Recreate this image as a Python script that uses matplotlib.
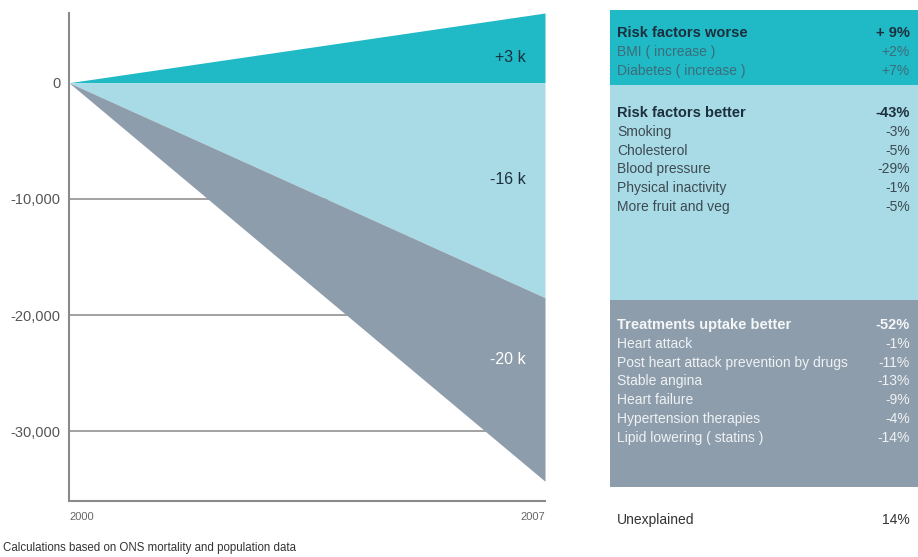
import matplotlib
matplotlib.use("Agg")
import matplotlib.pyplot as plt
from matplotlib.patches import Rectangle

# ---------------------------------------------------------------------------
# Data
# ---------------------------------------------------------------------------
years = [2000, 2007]
worse_top = [0, 6000]          # teal wedge, above zero
better_bottom = [0, -18500]    # light-blue wedge, zero down to here
treat_bottom = [0, -34300]     # grey wedge, better_bottom down to here
area_labels = ["+3 k", "-16 k", "-20 k"]
area_label_y = [2200, -8300, -23800]

y_ticks = [0, -10000, -20000, -30000]
y_ticklabels = ["0", "-10,000", "-20,000", "-30,000"]

worse_head = ("Risk factors worse", "+ 9%")
worse_items = ["BMI ( increase )", "Diabetes ( increase )"]
worse_vals = ["+2%", "+7%"]

better_head = ("Risk factors better", "-43%")
better_items = ["Smoking", "Cholesterol", "Blood pressure",
                "Physical inactivity", "More fruit and veg"]
better_vals = ["-3%", "-5%", "-29%", "-1%", "-5%"]

treat_head = ("Treatments uptake better", "-52%")
treat_items = ["Heart attack", "Post heart attack prevention by drugs",
               "Stable angina", "Heart failure", "Hypertension therapies",
               "Lipid lowering ( statins )"]
treat_vals = ["-1%", "-11%", "-13%", "-9%", "-4%", "-14%"]

unexplained = ("Unexplained", "14%")

# ---------------------------------------------------------------------------
# Style
# ---------------------------------------------------------------------------
TEAL = "#20b9c6"
LIGHT = "#a9dbe6"
SLATE = "#8e9dab"
NAVY = "#1c2f3e"
plt.rcParams["font.family"] = ["Liberation Sans", "DejaVu Sans"]

W, H = 918, 557
fig = plt.figure(figsize=(W / 100, H / 100), dpi=100)
fig.patch.set_facecolor("white")


def px_box(x0, y0, x1, y1):
    """Figure-fraction rect from pixel coords (origin top-left)."""
    return [x0 / W, 1 - y1 / H, (x1 - x0) / W, (y1 - y0) / H]


# ---------------------------------------------------------------------------
# Left: stacked wedges
# ---------------------------------------------------------------------------
ax = fig.add_axes(px_box(69, 13, 545, 501))
ax.set_xlim(years[0], years[-1])
ax.set_ylim(-36000, 6000)

for y in y_ticks[1:]:
    ax.axhline(y, color="#9a9a9a", linewidth=1.3, zorder=1)

ax.fill_between(years, 0, worse_top, color=TEAL, linewidth=0, zorder=2)
ax.fill_between(years, better_bottom, 0, color=LIGHT, linewidth=0, zorder=2)
ax.fill_between(years, treat_bottom, better_bottom, color=SLATE,
                linewidth=0, zorder=2)

label_colors = [NAVY, NAVY, "white"]
for txt, yv, c in zip(area_labels, area_label_y, label_colors):
    ax.annotate(txt, xy=(years[-1], yv), xytext=(-14, 0),
                textcoords="offset points", ha="right", va="center",
                fontsize=11.5, color=c, zorder=3)

for side in ("top", "right"):
    ax.spines[side].set_visible(False)
for side in ("left", "bottom"):
    ax.spines[side].set_color("#8a8a8a")
    ax.spines[side].set_linewidth(1.5)

ax.set_yticks(y_ticks)
ax.set_yticklabels(y_ticklabels)
ax.set_xticks(years)
ax.set_xticklabels([str(y) for y in years])
ax.tick_params(axis="y", length=0, pad=6, labelsize=10.5, labelcolor="#555555")
ax.tick_params(axis="x", length=0, pad=8, labelsize=8, labelcolor="#666666")
xl = ax.get_xticklabels()
xl[0].set_ha("left")
xl[-1].set_ha("right")

fig.text(3 / W, 1 - 548 / H,
         "Calculations based on ONS mortality and population data",
         fontsize=8.3, color="#333333", ha="left", va="center")

# ---------------------------------------------------------------------------
# Right: breakdown table (panel coords in pixels)
# ---------------------------------------------------------------------------
pan = fig.add_axes(px_box(610, 0, W, H))
pan.set_xlim(0, W - 610)
pan.set_ylim(H, 0)
pan.axis("off")

boxes = [(10, 85, TEAL), (85, 300, LIGHT), (300, 487, SLATE)]
for top, bot, col in boxes:
    pan.add_patch(Rectangle((0, top), W - 610, bot - top, color=col,
                            linewidth=0))

LX, RX = 7, 300
ROW = 18.8
blocks = [
    (worse_head, worse_items, worse_vals, 33, NAVY, "#3d6c7a"),
    (better_head, better_items, better_vals, 113, NAVY, "#3c4a52"),
    (treat_head, treat_items, treat_vals, 325, "#f4f6f8", "#eef2f5"),
]
for (head, items, vals, y0, hcol, icol) in blocks:
    pan.text(LX, y0, head[0], fontsize=10.5, fontweight="bold", color=hcol,
             ha="left", va="center")
    pan.text(RX, y0, head[1], fontsize=10.5, fontweight="bold", color=hcol,
             ha="right", va="center")
    for i, (name, val) in enumerate(zip(items, vals), start=1):
        pan.text(LX, y0 + i * ROW, name, fontsize=10, color=icol,
                 ha="left", va="center")
        pan.text(RX, y0 + i * ROW, val, fontsize=10, color=icol,
                 ha="right", va="center")

pan.text(LX, 520, unexplained[0], fontsize=10, color="#333333",
         ha="left", va="center")
pan.text(RX, 520, unexplained[1], fontsize=10, color="#333333",
         ha="right", va="center")

fig.savefig("out.png", dpi=100)
